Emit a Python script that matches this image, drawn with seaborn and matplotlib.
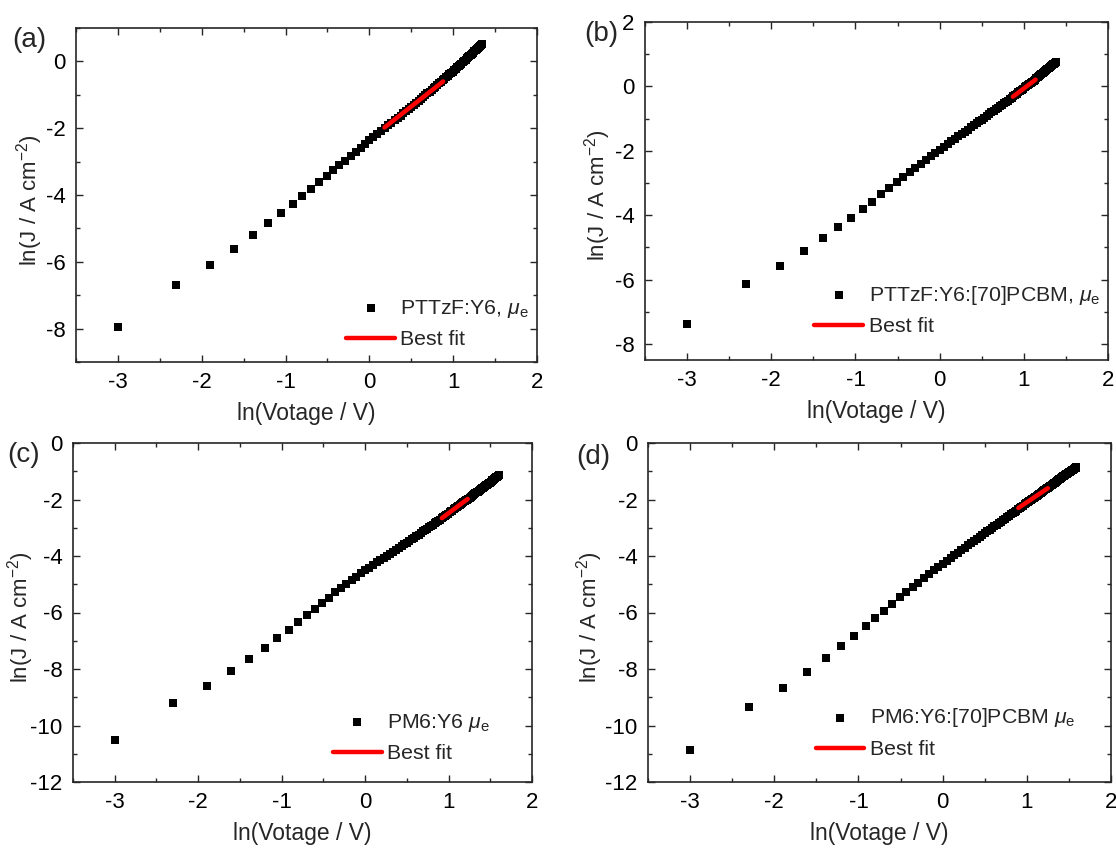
import numpy as np
import matplotlib
matplotlib.use("Agg")
import matplotlib.pyplot as plt
import seaborn as sns
from matplotlib.ticker import MultipleLocator

# Voltage sweep (V), 0.05 V steps
sweep_v = [0.05, 0.10, 0.15, 0.20, 0.25, 0.30, 0.35, 0.40, 0.45, 0.50,
           0.55, 0.60, 0.65, 0.70, 0.75, 0.80, 0.85, 0.90, 0.95, 1.00,
           1.05, 1.10, 1.15, 1.20, 1.25, 1.30, 1.35, 1.40, 1.45, 1.50,
           1.55, 1.60, 1.65, 1.70, 1.75, 1.80, 1.85, 1.90, 1.95, 2.00,
           2.05, 2.10, 2.15, 2.20, 2.25, 2.30, 2.35, 2.40, 2.45, 2.50,
           2.55, 2.60, 2.65, 2.70, 2.75, 2.80, 2.85, 2.90, 2.95, 3.00,
           3.05, 3.10, 3.15, 3.20, 3.25, 3.30, 3.35, 3.40, 3.45, 3.50,
           3.55, 3.60, 3.65, 3.70, 3.75, 3.80, 3.85, 3.90, 3.95, 4.00,
           4.05, 4.10, 4.15, 4.20, 4.25, 4.30, 4.35, 4.40, 4.45, 4.50,
           4.55, 4.60, 4.65, 4.70, 4.75, 4.80, 4.85, 4.90, 4.95, 5.00]

# ln(J / A cm^-2) for each device, one value per sweep point
lnj_a = [-7.95, -6.68, -6.09, -5.61, -5.19, -4.85, -4.54, -4.27, -4.03, -3.81,
         -3.61, -3.43, -3.26, -3.11, -2.98, -2.84, -2.71, -2.59, -2.47, -2.36,
         -2.26, -2.17, -2.08, -2.00, -1.91, -1.84, -1.76, -1.69, -1.62, -1.55,
         -1.48, -1.42, -1.36, -1.30, -1.24, -1.18, -1.13, -1.07, -1.02, -0.96,
         -0.91, -0.86, -0.81, -0.76, -0.71, -0.66, -0.62, -0.57, -0.53, -0.48,
         -0.44, -0.39, -0.35, -0.31, -0.27, -0.23, -0.18, -0.14, -0.11, -0.07,
         -0.03, 0.01, 0.05, 0.09, 0.12, 0.16, 0.19, 0.23, 0.26, 0.30,
         0.33, 0.37, 0.40, 0.43, 0.47, 0.50, 0.53]

lnj_b = [-7.39, -6.14, -5.57, -5.11, -4.72, -4.38, -4.08, -3.81, -3.58, -3.35,
         -3.17, -2.97, -2.80, -2.66, -2.53, -2.40, -2.28, -2.17, -2.07, -1.97,
         -1.88, -1.79, -1.71, -1.63, -1.55, -1.48, -1.41, -1.34, -1.27, -1.21,
         -1.15, -1.09, -1.03, -0.97, -0.92, -0.86, -0.81, -0.76, -0.71, -0.67,
         -0.62, -0.57, -0.53, -0.48, -0.44, -0.39, -0.35, -0.31, -0.27, -0.23,
         -0.19, -0.15, -0.11, -0.07, -0.03, 0.00, 0.04, 0.07, 0.11, 0.15,
         0.18, 0.21, 0.25, 0.28, 0.31, 0.35, 0.38, 0.41, 0.44, 0.47,
         0.50, 0.53, 0.56, 0.59, 0.62, 0.65, 0.68, 0.70, 0.73, 0.76]

lnj_c = [-10.52, -9.20, -8.59, -8.07, -7.64, -7.25, -6.90, -6.61, -6.34, -6.08,
         -5.86, -5.65, -5.47, -5.28, -5.14, -4.99, -4.86, -4.73, -4.61, -4.50,
         -4.41, -4.32, -4.23, -4.15, -4.07, -4.00, -3.92, -3.85, -3.78, -3.72,
         -3.65, -3.59, -3.53, -3.47, -3.41, -3.35, -3.29, -3.24, -3.19, -3.13,
         -3.08, -3.03, -2.98, -2.93, -2.89, -2.84, -2.80, -2.75, -2.71, -2.67,
         -2.62, -2.58, -2.54, -2.50, -2.46, -2.42, -2.39, -2.35, -2.31, -2.27,
         -2.24, -2.20, -2.17, -2.13, -2.10, -2.07, -2.03, -2.00, -1.97, -1.94,
         -1.90, -1.87, -1.84, -1.81, -1.78, -1.75, -1.72, -1.69, -1.67, -1.64,
         -1.61, -1.58, -1.56, -1.53, -1.50, -1.47, -1.45, -1.42, -1.40, -1.37,
         -1.35, -1.32, -1.30, -1.27, -1.25, -1.22, -1.20, -1.18, -1.15, -1.13]

lnj_d = [-10.87, -9.35, -8.69, -8.12, -7.62, -7.20, -6.82, -6.49, -6.18, -5.93,
         -5.69, -5.46, -5.27, -5.10, -4.94, -4.78, -4.64, -4.51, -4.39, -4.27,
         -4.17, -4.07, -3.97, -3.88, -3.79, -3.71, -3.62, -3.55, -3.47, -3.40,
         -3.33, -3.26, -3.19, -3.13, -3.07, -3.01, -2.95, -2.89, -2.83, -2.78,
         -2.73, -2.68, -2.62, -2.58, -2.53, -2.48, -2.43, -2.39, -2.34, -2.30,
         -2.26, -2.22, -2.17, -2.13, -2.10, -2.06, -2.02, -1.98, -1.94, -1.91,
         -1.87, -1.84, -1.80, -1.77, -1.74, -1.70, -1.67, -1.64, -1.61, -1.58,
         -1.55, -1.52, -1.49, -1.46, -1.43, -1.40, -1.37, -1.34, -1.32, -1.29,
         -1.26, -1.24, -1.21, -1.18, -1.16, -1.13, -1.11, -1.08, -1.06, -1.04,
         -1.01, -0.99, -0.97, -0.94, -0.92, -0.90, -0.88, -0.85]

# Best-fit segments (end points in ln V, ln J)
fit_lnv_a = [0.18, 0.88]
fit_lnj_a = [-1.98, -0.60]
fit_lnv_b = [0.87, 1.14]
fit_lnj_b = [-0.32, 0.21]
fit_lnv_c = [0.92, 1.23]
fit_lnj_c = [-2.66, -1.98]
fit_lnv_d = [0.90, 1.25]
fit_lnj_d = [-2.30, -1.60]

series_names = ["PTTzF:Y6, $\\mu_\\mathrm{e}$",
                "PTTzF:Y6:[70]PCBM, $\\mu_\\mathrm{e}$",
                "PM6:Y6 $\\mu_\\mathrm{e}$",
                "PM6:Y6:[70]PCBM $\\mu_\\mathrm{e}$"]
panel_tags = ["(a)", "(b)", "(c)", "(d)"]

sns.set_theme(style="ticks")
plt.rcParams.update({
    "font.family": ["Liberation Sans", "DejaVu Sans"],
    "mathtext.fontset": "custom",
    "mathtext.rm": "Liberation Sans",
    "mathtext.it": "Liberation Sans:italic",
    "mathtext.bf": "Liberation Sans:bold",
    "axes.unicode_minus": False,
})

W, H = 1116, 848
fig = plt.figure(figsize=(W / 100, H / 100), dpi=100)

# axes boxes in pixels: left, right, top, bottom
boxes = [(76, 537, 28, 362), (645, 1108, 22, 360),
         (73, 532, 443, 782), (648, 1111, 443, 782)]
ylims = [(-9, 1), (-8.5, 2), (-12, 0), (-12, 0)]
ylabel_xy = [(-0.067, 0.485), (-0.069, 0.488), (-0.081, 0.485), (-0.092, 0.485)]
legend_xy = [(0.586, 0.038), (0.366, 0.070), (0.566, 0.055), (0.362, 0.068)]
tag_xy = [(12, 27), (584, 21), (7, 442), (576, 444)]

datasets = [(lnj_a, fit_lnv_a, fit_lnj_a), (lnj_b, fit_lnv_b, fit_lnj_b),
            (lnj_c, fit_lnv_c, fit_lnj_c), (lnj_d, fit_lnv_d, fit_lnj_d)]

spine_col = "#262626"
for i, (lnj, fx, fy) in enumerate(datasets):
    l, r, t, b = boxes[i]
    ax = fig.add_axes([l / W, 1 - b / H, (r - l) / W, (b - t) / H])
    lnv = np.log(np.array(sweep_v[:len(lnj)]))
    sns.scatterplot(x=lnv, y=lnj, marker="s", s=40, color="black",
                    linewidth=0, label=series_names[i], ax=ax, zorder=2)
    sns.lineplot(x=fx, y=fy, color="#ff0000", linewidth=3.2,
                 solid_capstyle="round", sort=False, label="Best fit",
                 ax=ax, zorder=3)
    ax.set_xlim(-3.5, 2)
    ax.set_ylim(*ylims[i])
    ax.xaxis.set_major_locator(MultipleLocator(1))
    ax.xaxis.set_minor_locator(MultipleLocator(0.5))
    ax.yaxis.set_major_locator(MultipleLocator(2))
    ax.yaxis.set_minor_locator(MultipleLocator(1))
    ax.tick_params(which="both", direction="in", top=True, right=True,
                   color=spine_col, width=1.0, labelsize=16, pad=7.5,
                   labelcolor="black")
    ax.tick_params(which="major", length=5)
    ax.tick_params(which="minor", length=3)
    for sp in ax.spines.values():
        sp.set_linewidth(1.2)
        sp.set_color(spine_col)
    ax.set_xlabel("ln(Votage / V)", fontsize=16.5, labelpad=6)
    ax.set_ylabel("ln(J / A cm$^{-2}$)", fontsize=16)
    ax.yaxis.set_label_coords(*ylabel_xy[i])
    ax.legend(loc="lower left", bbox_to_anchor=legend_xy[i], frameon=False,
              fontsize=15.3, handlelength=2.3, handletextpad=0.25,
              borderpad=0, borderaxespad=0, labelspacing=0.5)
    tx, ty = tag_xy[i]
    fig.text(tx / W, 1 - ty / H, panel_tags[i], fontsize=20,
             ha="left", va="top")

fig.savefig("out.png", dpi=100)
